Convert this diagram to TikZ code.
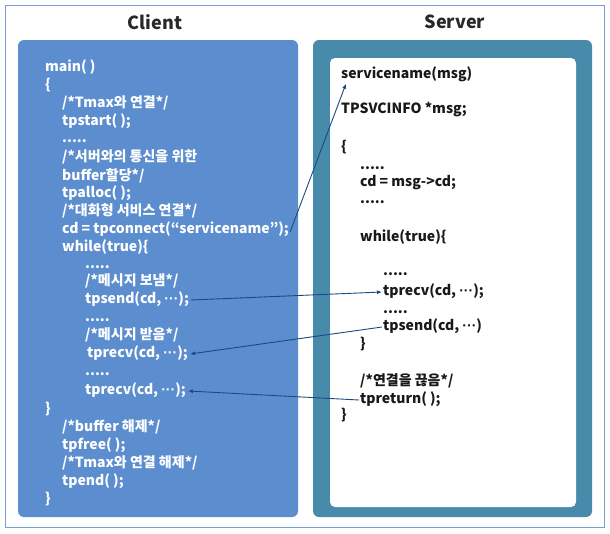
\documentclass[tikz,border=0pt]{standalone}
\usepackage{fontspec}
\setmainfont{Noto Sans CJK KR}
\newfontfamily\dotfont{Liberation Sans}
\usetikzlibrary{arrows.meta,calc}
\definecolor{frameblue}{RGB}{120,160,215}
\definecolor{clientblue}{RGB}{92,142,207}
\definecolor{servteal}{RGB}{72,138,170}
\definecolor{arrowblue}{RGB}{25,75,130}
\definecolor{titlegray}{RGB}{40,40,40}
\definecolor{codeblack}{RGB}{25,25,25}
\newcommand{\mydots}{{\dotfont\bfseries ···}}
\begin{document}
\begin{tikzpicture}[x=1pt,y=-1pt,
  codeline/.style={anchor=west,inner sep=0pt,text height=10pt,text depth=3pt,font=\fontsize{14}{16}\selectfont\bfseries},
  cl/.style={codeline,text=white},
  sl/.style={codeline,text=codeblack},
  title/.style={font=\fontsize{18}{20}\selectfont\bfseries,text=titlegray,inner sep=0pt},
  link/.style={draw=arrowblue,line width=0.9pt,-{Latex[length=5pt,width=4pt]}}]
\useasboundingbox (0,0) rectangle (610,533);
\draw[frameblue,line width=0.8pt] (5.5,5.5) rectangle (604.5,527.5);
\node[title] (tclient) at (155,22) {Client};
\node[title] (tserver) at (455,22) {Server};
\fill[clientblue,rounded corners=6pt] (18,40) rectangle (298,517);
\fill[servteal,rounded corners=6pt] (313,40) rectangle (592,517);
\fill[white,rounded corners=5pt] (330,58) rectangle (576,507);
% client code
\node[cl] (c1) at (45,68) {main( )};
\node[cl] (c2) at (45,86) {\{};
\node[cl] (c3) at (62,104) {/*Tmax와 연결*/};
\node[cl] (c4) at (62,122) {tpstart( );};
\node[cl] (c5) at (62,139) {.....};
\node[cl] (c6) at (62,158) {/*서버와의 통신을 위한};
\node[cl] (c7) at (62,177) {buffer할당*/};
\node[cl] (c8) at (62,194) {tpalloc( );};
\node[cl] (c9) at (62,212) {/*대화형 서비스 연결*/};
\node[cl] (cconn) at (62,230) {cd = tpconnect(“servicename”);};
\node[cl] (c11) at (62,248) {while(true)\{};
\node[cl] (c12) at (85,265) {.....};
\node[cl] (c13) at (85,282) {/*메시지 보냄*/};
\node[cl] (csend) at (85,300) {tpsend(cd, \mydots);};
\node[cl] (c15) at (85,318) {.....};
\node[cl] (c16) at (85,336) {/*메시지 받음*/};
\node[cl] (crecva) at (87,354) {tprecv(cd, \mydots);};
\node[cl] (c18) at (85,372) {.....};
\node[cl] (crecvb) at (85,391) {tprecv(cd, \mydots);};
\node[cl] (c20) at (45,410) {\}};
\node[cl] (c21) at (62,428) {/*buffer 해제*/};
\node[cl] (c22) at (62,446) {tpfree( );};
\node[cl] (c23) at (62,464) {/*Tmax와 연결 해제*/};
\node[cl] (c24) at (62,482) {tpend( );};
\node[cl] (c25) at (45,500) {\}};
% server code
\node[sl] (svc) at (341,75) {servicename(msg)};
\node[sl] (s2) at (341,110) {TPSVCINFO *msg;};
\node[sl] (s3) at (341,148) {\{};
\node[sl] (s4) at (360,166) {.....};
\node[sl] (s5) at (360,183) {cd = msg->cd;};
\node[sl] (s6) at (360,200) {.....};
\node[sl] (s7) at (360,238) {while(true)\{};
\node[sl] (s8) at (383,272) {.....};
\node[sl] (srecv) at (383,292) {tprecv(cd, \mydots);};
\node[sl] (s10) at (383,310) {.....};
\node[sl] (ssend) at (383,327) {tpsend(cd, \mydots)};
\node[sl] (s12) at (360,345) {\}};
\node[sl] (s13) at (360,382) {/*연결을 끊음*/};
\node[sl] (sret) at (360,400) {tpreturn( );};
\node[sl] (s15) at (341,416) {\}};
% connectors
\draw[link] ($(cconn.east)+(1,2)$) -- ($(svc.south west)+(5,2)$);
\draw[link] ($(csend.east)+(2,0)$) -- ($(srecv.west)+(-1,0)$);
\draw[link] ($(ssend.west)+(-1,0)$) -- ($(crecva.east)+(2,0)$);
\draw[link] ($(sret.west)+(-1,0)$) -- ($(crecvb.east)+(2,0)$);
\end{tikzpicture}
\end{document}
